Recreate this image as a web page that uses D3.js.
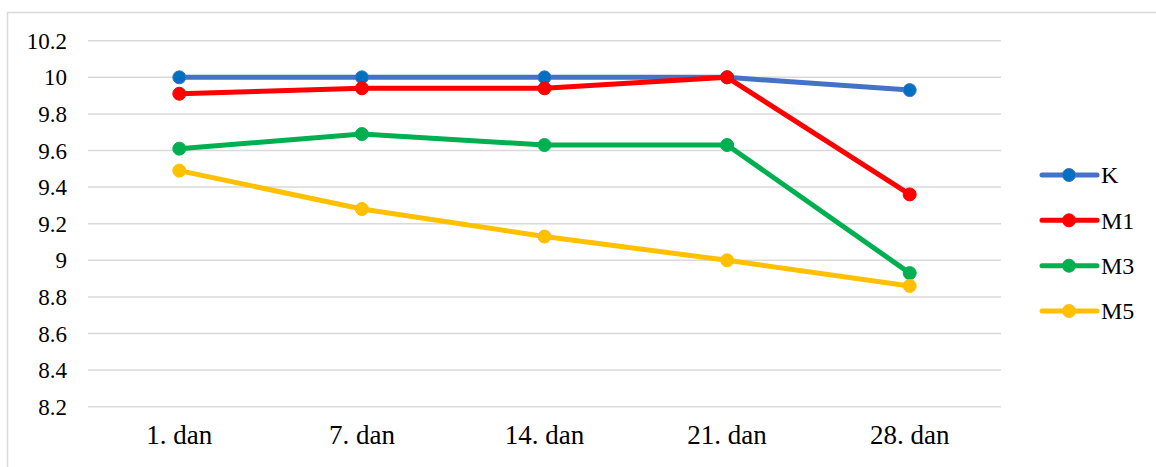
<!DOCTYPE html>
<html><head><meta charset="utf-8">
<script src="https://cdn.jsdelivr.net/npm/d3@7/dist/d3.min.js"></script>
<style>html,body{margin:0;padding:0;background:#fff;}svg{display:block;}svg text{font-family:'Liberation Serif','Times New Roman',serif !important;}</style>
</head><body><svg id="c" width="1156" height="467"></svg>
<script>
const categories = ["1. dan", "7. dan", "14. dan", "21. dan", "28. dan"];
const seriesNames = ["K", "M1", "M3", "M5"];
const valuesK  = [10, 10, 10, 10, 9.93];
const valuesM1 = [9.91, 9.94, 9.94, 10, 9.36];
const valuesM3 = [9.61, 9.69, 9.63, 9.63, 8.93];
const valuesM5 = [9.49, 9.28, 9.13, 9.00, 8.86];
const yTicks = [8.2, 8.4, 8.6, 8.8, 9, 9.2, 9.4, 9.6, 9.8, 10, 10.2];
const lineColors = ["#4472C4", "#FF0000", "#00B050", "#FFC000"];
const markerColors = ["#0070C0", "#FF0000", "#00B050", "#FFC000"];

const series = [valuesK, valuesM1, valuesM3, valuesM5];
const svg = d3.select("#c");

// outer frame (only left/top visible)
svg.append("rect").attr("x", 7.5).attr("y", 12.5).attr("width", 1200).attr("height", 500)
  .attr("fill", "none").attr("stroke", "#d9d9d9").attr("stroke-width", 1.5);

const x = d3.scaleBand().domain(categories).range([88, 1001]);
const y = d3.scaleLinear().domain([8.2, 10.2]).range([406.7, 40.7]);

// gridlines
svg.append("g").selectAll("line").data(yTicks).join("line")
  .attr("x1", 88).attr("x2", 1001)
  .attr("y1", d => y(d)).attr("y2", d => y(d))
  .attr("stroke", "#d9d9d9").attr("stroke-width", 1.5);

// y axis labels
const yAxis = d3.axisLeft(y).tickValues(yTicks).tickSize(0).tickPadding(0).tickFormat(d => String(+d.toFixed(1)));
const gy = svg.append("g").attr("transform", "translate(67,0)").call(yAxis);
gy.select(".domain").remove();
gy.attr("font-family", null);
gy.selectAll("text").attr("font-size", 23).attr("fill", "#000").attr("dy", "0.33em");

// x axis labels
const xAxis = d3.axisBottom(x).tickSize(0).tickPadding(0);
const gx = svg.append("g").attr("transform", "translate(0,424)").call(xAxis);
gx.select(".domain").remove();
gx.attr("font-family", null);
gx.selectAll("text").attr("font-size", 27).attr("fill", "#000").attr("dy", "0.75em");

const cx = d => x(d) + x.bandwidth() / 2;
const line = d3.line().x((d, i) => cx(categories[i])).y(d => y(d));

series.forEach((vals, si) => {
  svg.append("path").datum(vals).attr("d", line)
    .attr("fill", "none").attr("stroke", lineColors[si]).attr("stroke-width", 5)
    .attr("stroke-linejoin", "round").attr("stroke-linecap", "round");
  svg.append("g").selectAll("circle").data(vals).join("circle")
    .attr("cx", (d, i) => cx(categories[i])).attr("cy", d => y(d)).attr("r", 6.5)
    .attr("fill", markerColors[si]).attr("stroke", lineColors[si]).attr("stroke-width", 1);
});

// legend
const legY = d3.scalePoint().domain(seriesNames).range([175, 311]);
const leg = svg.append("g");
seriesNames.forEach((name, si) => {
  const yy = legY(name);
  leg.append("line").attr("x1", 1042).attr("x2", 1097).attr("y1", yy).attr("y2", yy)
    .attr("stroke", lineColors[si]).attr("stroke-width", 5).attr("stroke-linecap", "round");
  leg.append("circle").attr("cx", 1069).attr("cy", yy).attr("r", 6.5)
    .attr("fill", markerColors[si]).attr("stroke", lineColors[si]).attr("stroke-width", 1);
  leg.append("text").attr("x", 1101).attr("y", yy).attr("dy", "0.35em")
    .attr("font-size", 24).attr("fill", "#000").text(name);
});
</script></body></html>
